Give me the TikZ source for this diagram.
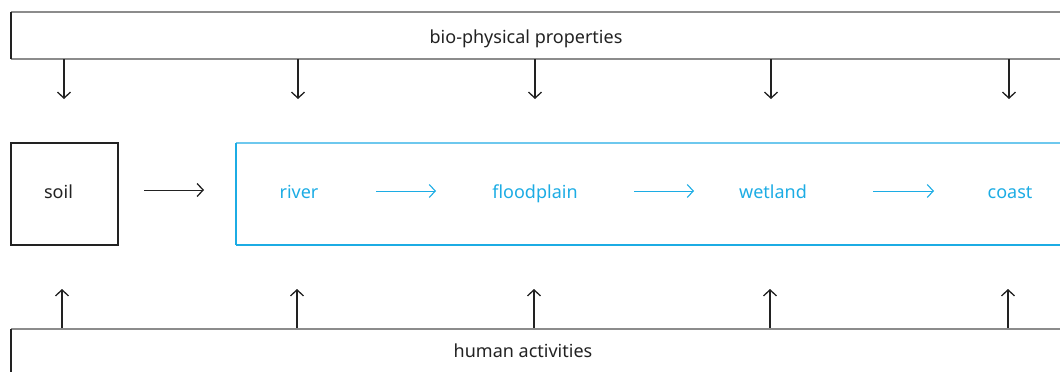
\documentclass[tikz,border=0pt]{standalone}
\usepackage{fontspec}
\setmainfont{Noto Sans}
\usetikzlibrary{arrows.meta}
\definecolor{blu}{RGB}{28,172,228}
\definecolor{lblu}{RGB}{110,200,238}
\definecolor{ink}{RGB}{34,34,34}
\definecolor{edge}{RGB}{140,140,140}
\begin{document}
\begin{tikzpicture}[x=1pt,y=-1pt,
  lbl/.style={font=\fontsize{18}{21}\selectfont, inner sep=0pt, anchor=base},
  blk/.style={draw=ink, line width=1.4pt, -{Straight Barb[length=6pt,width=13pt,line width=1.3pt]}},
  bluarrow/.style={draw=blu, line width=1pt, -{Straight Barb[length=6pt,width=13pt,line width=1.1pt]}},
  thin/.style={draw=edge, line width=1.1pt},
  thick/.style={draw=ink, line width=1.6pt}]
\useasboundingbox (0,0) rectangle (1060,372);
\clip (0,0) rectangle (1060,372);
% top bar
\draw[thin] (11,12) -- (1075,12);
\draw[thin] (11,59) -- (1075,59);
\draw[thick] (11,12) -- (11,59);
\node[lbl, text=ink] (bio) at (526,43) {bio-physical properties};
% down arrows
\foreach \i/\x in {1/64,2/298,3/535,4/771,5/1009}{
  \coordinate (da\i) at (\x,59);
  \coordinate (db\i) at (\x,99);
  \draw[blk] (da\i) -- (db\i);
}
% soil
\node[draw=ink, line width=1.3pt, minimum width=107pt, minimum height=102pt, inner sep=0pt] (soil) at (64.5,194) {};
\node[lbl, text=ink] (soiltxt) at (58.5,198) {soil};
\coordinate (sa) at (144,190);
\coordinate (sb) at (204,190);
\draw[blk, line width=1pt] (sa) -- (sb);
% blue flow box
\draw[draw=lblu, line width=1.1pt] (236,143) -- (1075,143);
\draw[draw=blu, line width=1.1pt] (236,245) -- (1075,245);
\draw[draw=blu, line width=1.8pt] (236,143) -- (236,245);
\node[lbl, text=blu] (river) at (299,198) {river};
\node[lbl, text=blu] (flood) at (535,198) {floodplain};
\node[lbl, text=blu] (wet) at (773,198) {wetland};
\node[lbl, text=blu] (coast) at (1010,198) {coast};
\coordinate (b1a) at (376,191); \coordinate (b1b) at (436,191);
\coordinate (b2a) at (634,191); \coordinate (b2b) at (694,191);
\coordinate (b3a) at (873,191); \coordinate (b3b) at (934,191);
\draw[bluarrow] (b1a) -- (b1b);
\draw[bluarrow] (b2a) -- (b2b);
\draw[bluarrow] (b3a) -- (b3b);
% up arrows
\foreach \i/\x in {1/62,2/297,3/534,4/770,5/1008}{
  \coordinate (ua\i) at (\x,329);
  \coordinate (ub\i) at (\x,289);
  \draw[blk] (ua\i) -- (ub\i);
}
% bottom bar
\draw[thin] (11,329) -- (1075,329);
\draw[thick] (11,329) -- (11,380);
\node[lbl, text=ink] (hum) at (523,357) {human activities};
\end{tikzpicture}
\end{document}
